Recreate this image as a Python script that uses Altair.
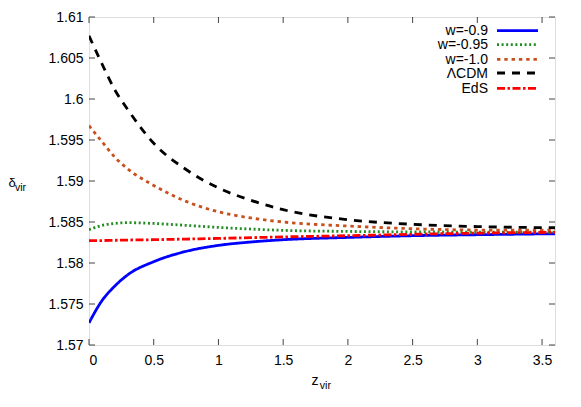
import altair as alt
import pandas as pd

# ---- data ----
z_vals = [0, 0.1, 0.2, 0.3, 0.5, 0.75, 1.0, 1.25, 1.5, 2.0, 2.5, 3.0, 3.6]

w_09 = [1.5727, 1.5754, 1.5772, 1.57857, 1.58016, 1.58142, 1.58215, 1.58256, 1.58284, 1.58312, 1.58333, 1.58345, 1.58357]
w_095 = [1.58406, 1.58458, 1.58483, 1.58492, 1.58482, 1.58459, 1.58434, 1.58414, 1.58398, 1.58385, 1.58379, 1.58377, 1.58376]
w_10 = [1.59674, 1.5948, 1.5929, 1.59146, 1.58946, 1.58751, 1.58625, 1.58549, 1.5850, 1.58451, 1.58418, 1.58402, 1.5840]
lcdm = [1.6077, 1.6043, 1.6011, 1.5987, 1.5946, 1.5914, 1.58915, 1.58765, 1.5865, 1.58528, 1.58472, 1.58444, 1.5843]
eds = [1.58272, 1.58274, 1.58277, 1.5828, 1.58284, 1.58292, 1.5830, 1.58309, 1.58318, 1.58333, 1.58350, 1.58364, 1.58374]

series_names = ["w=-0.9", "w=-0.95", "w=-1.0", "\u039bCDM", "EdS"]
series_values = [w_09, w_095, w_10, lcdm, eds]
series_colors = ["#0000ff", "#228b22", "#c8501e", "#000000", "#ff0000"]
series_dashes = [[1, 0], [2, 2.6], [3.4, 3.9], [8, 7], [8, 2.5, 2.5, 2.5]]

x_ticks = [0, 0.5, 1, 1.5, 2, 2.5, 3, 3.5]
y_ticks = [1.57, 1.575, 1.58, 1.585, 1.59, 1.595, 1.6, 1.605, 1.61]

W, H = 466, 328
FONT = "Liberation Sans"

rows = []
for name, vals in zip(series_names, series_values):
    for i, (z, v) in enumerate(zip(z_vals, vals)):
        rows.append({"series": name, "z": z, "d": v, "o": i})
df = pd.DataFrame(rows)

xs = alt.Scale(domain=[0, 3.6], nice=False, zero=False)
ys = alt.Scale(domain=[1.57, 1.61], nice=False, zero=False)
x_axis = alt.Axis(values=x_ticks, title=None, ticks=False, domain=False, grid=False,
                  labelFont=FONT, labelFontSize=14, labelColor="black",
                  labelPadding=8, labelExpr="format(datum.value, '~g')")
y_axis = alt.Axis(values=y_ticks, title=None, ticks=False, domain=False, grid=False,
                  labelFont=FONT, labelFontSize=14, labelColor="black",
                  labelPadding=6, labelExpr="format(datum.value, '~g')")

lines = alt.Chart(df).mark_line(strokeWidth=2.8, interpolate="monotone", clip=True).encode(
    x=alt.X("z:Q", scale=xs, axis=x_axis),
    y=alt.Y("d:Q", scale=ys, axis=y_axis),
    color=alt.Color("series:N", scale=alt.Scale(domain=series_names, range=series_colors), legend=None),
    strokeDash=alt.StrokeDash("series:N", scale=alt.Scale(domain=series_names, range=series_dashes), legend=None),
    detail="series:N",
    order="o:Q",
)

ydf = pd.DataFrame({"d": y_ticks})
xdf = pd.DataFrame({"z": x_ticks})
tick_style = dict(color="#444444", strokeWidth=1)
yl = alt.Chart(ydf).mark_rule(**tick_style).encode(
    y=alt.Y("d:Q", scale=ys, axis=y_axis), x=alt.value(0), x2=alt.value(6))
yr = alt.Chart(ydf).mark_rule(**tick_style).encode(
    y=alt.Y("d:Q", scale=ys, axis=y_axis), x=alt.value(W - 6), x2=alt.value(W))
xb = alt.Chart(xdf).mark_rule(**tick_style).encode(
    x=alt.X("z:Q", scale=xs, axis=x_axis), y=alt.value(H - 6), y2=alt.value(H))
xt = alt.Chart(xdf).mark_rule(**tick_style).encode(
    x=alt.X("z:Q", scale=xs, axis=x_axis), y=alt.value(0), y2=alt.value(6))

# legend (gnuplot style: label right, sample on the right)
leg_y = [13.7, 27.6, 42.3, 56.0, 71.3]
legend_layers = []
for name, col, dash, ly in zip(series_names, series_colors, series_dashes, leg_y):
    one = pd.DataFrame({"label": [name]})
    legend_layers.append(
        alt.Chart(one).mark_rule(color=col, strokeWidth=2.8, strokeDash=dash).encode(
            x=alt.value(408), x2=alt.value(449), y=alt.value(ly)))
    legend_layers.append(
        alt.Chart(one).mark_text(align="right", baseline="middle", font=FONT, fontSize=14,
                                 color="black", dy=0.5).encode(
            x=alt.value(399), y=alt.value(ly), text="label:N"))

# axis titles with subscripts
t1 = pd.DataFrame({"s": ["\u03b4"]})
t2 = pd.DataFrame({"s": ["vir"]})
t3 = pd.DataFrame({"s": ["z"]})
titles = [
    alt.Chart(t1).mark_text(align="left", baseline="alphabetic", font=FONT, fontSize=13, color="black").encode(
        x=alt.value(-80.5), y=alt.value(170), text="s:N"),
    alt.Chart(t2).mark_text(align="left", baseline="alphabetic", font=FONT, fontSize=10.5, color="black").encode(
        x=alt.value(-74.0), y=alt.value(173.5), text="s:N"),
    alt.Chart(t3).mark_text(align="left", baseline="alphabetic", font=FONT, fontSize=14, color="black").encode(
        x=alt.value(222.5), y=alt.value(368), text="s:N"),
    alt.Chart(t2).mark_text(align="left", baseline="alphabetic", font=FONT, fontSize=10.5, color="black").encode(
        x=alt.value(230.8), y=alt.value(372.3), text="s:N"),
]

chart = alt.layer(lines, yl, yr, xb, xt, *legend_layers, *titles).properties(
    width=W, height=H,
    autosize=alt.AutoSizeParams(type="none"),
    padding={"left": 81, "top": 9, "right": 10, "bottom": 50},
).configure_view(stroke="black", strokeWidth=1).configure(background="white")

chart.save("out.html", embed_options={"renderer": "svg", "actions": False})
